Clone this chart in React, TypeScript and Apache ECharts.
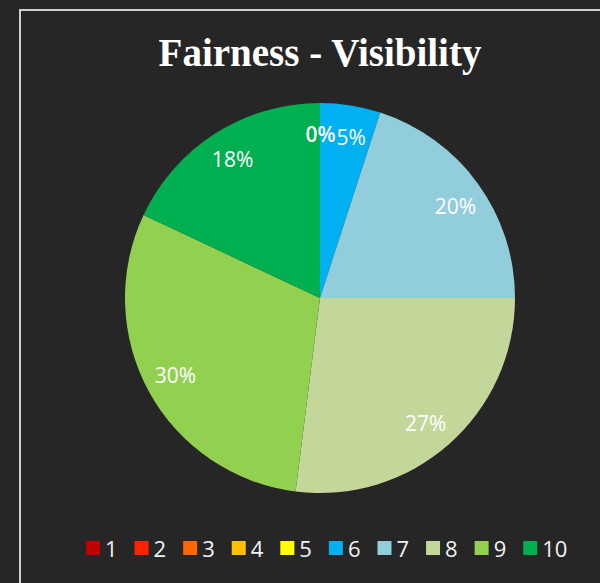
import React, { useEffect, useRef } from "react";
import * as echarts from "echarts";

const chartTitle = "Fairness - Visibility";
const categories = ["1", "2", "3", "4", "5", "6", "7", "8", "9", "10"];
const shares = [0, 0, 0, 0, 0, 5, 20, 27, 30, 18];
const sliceColors = [
  "#C00000",
  "#FF2200",
  "#FF6600",
  "#FFC000",
  "#FFFF00",
  "#00B0F0",
  "#92CDDC",
  "#C4D79B",
  "#92D050",
  "#00B050",
];

export default function App() {
  const ref = useRef<HTMLDivElement>(null);
  useEffect(() => {
    document.body.style.margin = "0";
    document.body.style.background = "#262626";
    if (!ref.current) return;
    const chart = echarts.init(ref.current, null, { renderer: "svg" });
    const data = categories.map((c, i) => ({
      name: c,
      value: shares[i],
      itemStyle: { color: sliceColors[i] },
    }));
    // label-only overlay: zero shares get a minimal angle so their "0%" labels still show at the top
    const labelData = categories.map((c, i) => ({
      name: c,
      value: shares[i] === 0 ? 0.01 : shares[i],
      share: shares[i],
      label: shares[i] === 0 ? { fontWeight: 600 } : undefined,
    }));
    const labelFont = "'Open Sans', sans-serif";
    chart.setOption({
      animation: false,
      backgroundColor: "#262626",
      graphic: [
        {
          type: "rect",
          shape: { x: 20, y: 10, width: 620, height: 620 },
          style: { fill: "none", stroke: "#CFCFCF", lineWidth: 2 },
          silent: true,
        },
        {
          type: "text",
          x: 320,
          y: 52,
          style: {
            text: chartTitle,
            fill: "#FFFFFF",
            font: "bold 39px 'Liberation Serif', serif",
            align: "center",
            verticalAlign: "middle",
          },
          silent: true,
        },
      ],
      legend: {
        data: categories,
        left: 86,
        top: 537,
        padding: 0,
        icon: "rect",
        itemWidth: 14,
        itemHeight: 14,
        itemGap: 17,
        textStyle: { color: "#F2F2F2", fontSize: 22, fontFamily: labelFont },
        selectedMode: false,
      },
      series: [
        {
          type: "pie",
          center: [320, 298],
          radius: [0, 195],
          startAngle: 90,
          clockwise: true,
          silent: true,
          label: { show: false },
          labelLine: { show: false },
          itemStyle: { borderWidth: 0 },
          data,
        },
        {
          type: "pie",
          center: [320, 298],
          radius: [127, 195],
          startAngle: 90,
          clockwise: true,
          silent: true,
          minAngle: 0.4,
          minShowLabelAngle: 0,
          avoidLabelOverlap: false,
          legendHoverLink: false,
          itemStyle: { color: "rgba(0,0,0,0)", borderWidth: 0 },
          label: {
            show: true,
            position: "inside",
            color: "#FFFFFF",
            fontSize: 21,
            fontFamily: labelFont,
            formatter: (p: any) => Math.round(p.data.share) + "%",
          },
          labelLine: { show: false },
          data: labelData,
        },
      ],
    });
    return () => chart.dispose();
  }, []);
  return <div ref={ref} style={{ width: 600, height: 583 }} />;
}
